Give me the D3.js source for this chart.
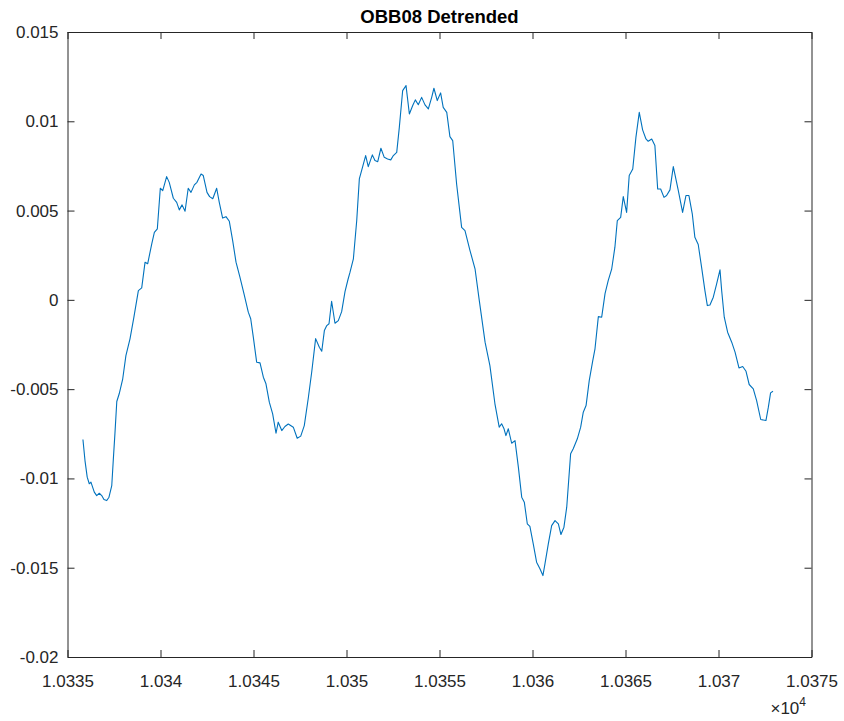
<!DOCTYPE html>
<html>
<head>
<meta charset="utf-8">
<script src="https://cdn.jsdelivr.net/npm/d3@7"></script>
<style>
  html, body { margin: 0; padding: 0; background: #fff; }
  svg { display: block; font-family: "Liberation Sans", Arial, Helvetica, sans-serif; }
</style>
</head>
<body>
<svg id="chart" width="844" height="721"></svg>
<script>
// Detrended OBB08 record: sample times and residual values
const times = [
  10335.83, 10335.94, 10336.06, 10336.17, 10336.26, 10336.35, 10336.44, 10336.57, 10336.71, 10336.84,
  10336.96, 10337.11, 10337.23, 10337.38, 10337.46, 10337.55, 10337.65, 10337.78, 10337.97, 10338.14,
  10338.36, 10338.57, 10338.81, 10338.99, 10339.17, 10339.31, 10339.53, 10339.67, 10339.83, 10339.99,
  10340.12, 10340.33, 10340.47, 10340.69, 10340.87, 10341.01, 10341.16, 10341.32, 10341.49, 10341.64,
  10341.82, 10341.96, 10342.18, 10342.30, 10342.50, 10342.64, 10342.81, 10343.02, 10343.16, 10343.34,
  10343.52, 10343.70, 10343.88, 10344.06, 10344.27, 10344.49, 10344.72, 10344.85, 10344.99, 10345.17,
  10345.35, 10345.53, 10345.67, 10345.85, 10346.03, 10346.21, 10346.33, 10346.52, 10346.69, 10346.87,
  10347.14, 10347.35, 10347.54, 10347.73, 10347.95, 10348.13, 10348.34, 10348.54, 10348.67, 10348.81,
  10348.94, 10349.06, 10349.20, 10349.38, 10349.56, 10349.74, 10349.92, 10350.08, 10350.19, 10350.37,
  10350.55, 10350.69, 10350.87, 10351.03, 10351.17, 10351.39, 10351.53, 10351.68, 10351.85, 10352.03,
  10352.21, 10352.38, 10352.52, 10352.70, 10352.84, 10353.02, 10353.20, 10353.38, 10353.56, 10353.70,
  10353.86, 10354.04, 10354.22, 10354.40, 10354.58, 10354.70, 10354.88, 10355.06, 10355.20, 10355.39,
  10355.56, 10355.71, 10355.92, 10356.19, 10356.37, 10356.64, 10356.91, 10357.14, 10357.45, 10357.71,
  10357.98, 10358.21, 10358.34, 10358.47, 10358.57, 10358.70, 10358.88, 10359.06, 10359.24, 10359.42,
  10359.56, 10359.72, 10359.86, 10360.04, 10360.22, 10360.40, 10360.56, 10360.67, 10360.85, 10361.03,
  10361.21, 10361.39, 10361.53, 10361.69, 10361.84, 10362.05, 10362.19, 10362.41, 10362.59, 10362.73,
  10362.88, 10363.05, 10363.24, 10363.36, 10363.54, 10363.72, 10363.90, 10364.07, 10364.26, 10364.43,
  10364.56, 10364.74, 10364.88, 10365.06, 10365.20, 10365.39, 10365.56, 10365.74, 10365.92, 10366.10,
  10366.22, 10366.41, 10366.58, 10366.73, 10366.89, 10367.07, 10367.21, 10367.39, 10367.57, 10367.84,
  10368.07, 10368.25, 10368.41, 10368.59, 10368.73, 10368.91, 10369.09, 10369.27, 10369.40, 10369.54,
  10369.72, 10369.90, 10370.08, 10370.17, 10370.31, 10370.49, 10370.71, 10370.89, 10371.10, 10371.30,
  10371.48, 10371.65, 10371.87, 10372.05, 10372.27, 10372.55, 10372.68, 10372.80, 10372.93
];

const residuals = [
  -0.00782, -0.00900, -0.00993, -0.01030, -0.01021, -0.01049, -0.01077, -0.01096, -0.01083, -0.01096,
  -0.01118, -0.01124, -0.01105, -0.01040, -0.00900, -0.00749, -0.00569, -0.00526, -0.00442, -0.00312,
  -0.00218, -0.00097, 0.00052, 0.00067, 0.00211, 0.00202, 0.00314, 0.00378, 0.00398, 0.00625,
  0.00612, 0.00690, 0.00658, 0.00569, 0.00546, 0.00504, 0.00532, 0.00496, 0.00625, 0.00602,
  0.00644, 0.00658, 0.00705, 0.00696, 0.00602, 0.00578, 0.00566, 0.00625, 0.00546, 0.00458,
  0.00466, 0.00440, 0.00332, 0.00211, 0.00127, 0.00034, -0.00069, -0.00106, -0.00209, -0.00349,
  -0.00353, -0.00433, -0.00470, -0.00573, -0.00638, -0.00747, -0.00685, -0.00732, -0.00709, -0.00695,
  -0.00713, -0.00775, -0.00763, -0.00704, -0.00547, -0.00404, -0.00217, -0.00265, -0.00288, -0.00172,
  -0.00144, -0.00134, -0.00008, -0.00131, -0.00116, -0.00066, 0.00046, 0.00114, 0.00155, 0.00230,
  0.00444, 0.00677, 0.00746, 0.00808, 0.00746, 0.00812, 0.00780, 0.00774, 0.00849, 0.00798,
  0.00789, 0.00784, 0.00808, 0.00826, 0.00966, 0.01172, 0.01200, 0.01041, 0.01088, 0.01120,
  0.01093, 0.01134, 0.01092, 0.01069, 0.01134, 0.01185, 0.01116, 0.01159, 0.01078, 0.01050,
  0.00914, 0.00892, 0.00649, 0.00406, 0.00388, 0.00276, 0.00174, -0.00004, -0.00237, -0.00368,
  -0.00582, -0.00713, -0.00694, -0.00722, -0.00760, -0.00722, -0.00803, -0.00788, -0.00937, -0.01105,
  -0.01133, -0.01254, -0.01269, -0.01366, -0.01469, -0.01506, -0.01544, -0.01478, -0.01366, -0.01264,
  -0.01236, -0.01254, -0.01314, -0.01273, -0.01161, -0.00862, -0.00834, -0.00778, -0.00713, -0.00629,
  -0.00592, -0.00452, -0.00340, -0.00274, -0.00094, -0.00097, 0.00035, 0.00108, 0.00174, 0.00295,
  0.00444, 0.00462, 0.00578, 0.00490, 0.00696, 0.00733, 0.00910, 0.01050, 0.00952, 0.00901,
  0.00888, 0.00901, 0.00864, 0.00621, 0.00621, 0.00574, 0.00584, 0.00616, 0.00746, 0.00612,
  0.00490, 0.00584, 0.00584, 0.00482, 0.00350, 0.00310, 0.00183, 0.00052, -0.00032, -0.00029,
  0.00015, 0.00090, 0.00168, 0.00052, -0.00097, -0.00181, -0.00237, -0.00293, -0.00381, -0.00373,
  -0.00400, -0.00474, -0.00498, -0.00564, -0.00670, -0.00676, -0.00601, -0.00521, -0.00512
];

// Axis ticks (x shown in units of 10^4)
const xTicks = [10335, 10340, 10345, 10350, 10355, 10360, 10365, 10370, 10375];
const xTickLabels = ["1.0335", "1.034", "1.0345", "1.035", "1.0355", "1.036", "1.0365", "1.037", "1.0375"];
const yTicks = [-0.02, -0.015, -0.01, -0.005, 0, 0.005, 0.01, 0.015];
const yTickLabels = ["-0.02", "-0.015", "-0.01", "-0.005", "0", "0.005", "0.01", "0.015"];

const titleText = "OBB08 Detrended";

const svg = d3.select("#chart");
const margin = { left: 67.5, right: 844 - 811.5, top: 32, bottom: 721 - 657 };
const W = 844, H = 721;

const x = d3.scaleLinear().domain([10335, 10375]).range([margin.left, W - margin.right]);
const y = d3.scaleLinear().domain([-0.02, 0.015]).range([H - margin.bottom, margin.top]);

const axisColor = "#262626";
const tickLen = 7;

// Plot box background
svg.append("rect")
  .attr("x", x.range()[0]).attr("y", y.range()[1])
  .attr("width", x.range()[1] - x.range()[0])
  .attr("height", y.range()[0] - y.range()[1])
  .attr("fill", "#fff");

// Data line
const line = d3.line().x((d, i) => x(times[i])).y((d, i) => y(residuals[i]));
svg.append("path")
  .datum(residuals)
  .attr("d", line)
  .attr("fill", "none")
  .attr("stroke", "#0072BD")
  .attr("stroke-width", 1.1)
  .attr("stroke-linejoin", "round");

// Axes with inward ticks on all four sides
const fmtX = v => xTickLabels[xTicks.indexOf(v)];
const fmtY = v => yTickLabels[yTicks.indexOf(v)];

const gBottom = svg.append("g").attr("transform", `translate(0,${y.range()[0]})`)
  .call(d3.axisBottom(x).tickValues(xTicks).tickFormat(fmtX).tickSizeInner(-tickLen).tickSizeOuter(0).tickPadding(18));
const gTop = svg.append("g").attr("transform", `translate(0,${y.range()[1]})`)
  .call(d3.axisTop(x).tickValues(xTicks).tickFormat("").tickSizeInner(-tickLen).tickSizeOuter(0));
const gLeft = svg.append("g").attr("transform", `translate(${x.range()[0]},0)`)
  .call(d3.axisLeft(y).tickValues(yTicks).tickFormat(fmtY).tickSizeInner(-tickLen).tickSizeOuter(0).tickPadding(9));
const gRight = svg.append("g").attr("transform", `translate(${x.range()[1]},0)`)
  .call(d3.axisRight(y).tickValues(yTicks).tickFormat("").tickSizeInner(-tickLen).tickSizeOuter(0));

[gBottom, gTop, gLeft, gRight].forEach(g => {
  g.select(".domain").attr("stroke", axisColor).attr("stroke-width", 1);
  g.selectAll(".tick line").attr("stroke", axisColor).attr("stroke-width", 1);
  g.selectAll(".tick text")
    .attr("fill", axisColor)
    .style("font-size", "17px")
    .style("font-family", "'Liberation Sans', Arial, Helvetica, sans-serif");
});

// Exponent marker for the x axis
const expo = svg.append("text")
  .attr("x", 806).attr("y", 714)
  .attr("text-anchor", "end")
  .attr("fill", axisColor)
  .style("font-size", "17px");
expo.append("tspan").text("\u00d710");
expo.append("tspan").attr("dy", -8).style("font-size", "12px").text("4");

// Title
svg.append("text")
  .attr("x", (x.range()[0] + x.range()[1]) / 2)
  .attr("y", 23)
  .attr("text-anchor", "middle")
  .attr("fill", "#000")
  .style("font-size", "18.5px")
  .style("font-weight", "bold")
  .text(titleText);
</script>
</body>
</html>
